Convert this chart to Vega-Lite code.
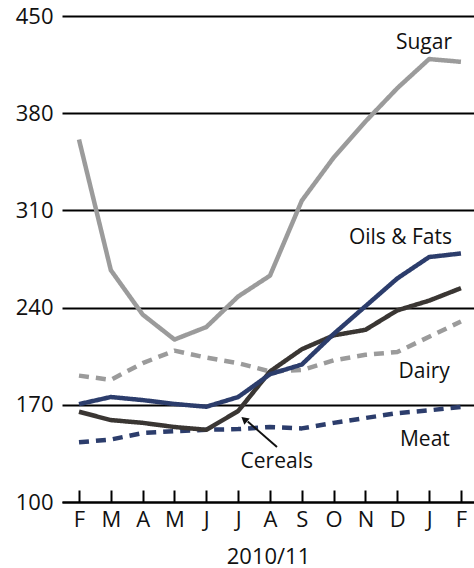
{
  "$schema": "https://vega.github.io/schema/vega-lite/v6.json",
  "width": 412,
  "height": 486,
  "autosize": {"type": "none"},
  "padding": {"left": 62, "top": 16, "right": 0, "bottom": 66},
  "background": "white",
  "config": {"view": {"stroke": null}, "font": "Open Sans"},
  "encoding": {
    "x": {
      "field": "m", "type": "quantitative",
      "scale": {"domain": [-0.534, 12.41], "nice": false, "zero": false},
      "axis": {
        "values": [0, 1, 2, 3, 4, 5, 6, 7, 8, 9, 10, 11, 12],
        "labelExpr": "['F','M','A','M','J','J','A','S','O','N','D','J','F'][datum.value]",
        "title": "2010/11", "titleFontSize": 22, "titleFontWeight": "normal", "titleColor": "#111", "titlePadding": 16,
        "labelFontSize": 22, "labelColor": "#111", "labelPadding": 19, "labelFlush": false, "labelOverlap": false,
        "domainColor": "#000", "domainWidth": 2, "tickColor": "#000", "tickWidth": 2, "tickSize": -12, "grid": false
      }
    },
    "y": {
      "field": "v", "type": "quantitative",
      "scale": {"domain": [100, 450], "nice": false, "zero": false},
      "axis": {
        "values": [100, 170, 240, 310, 380, 450], "title": null,
        "grid": true, "gridColor": "#000", "gridWidth": 2, "domain": false, "ticks": false,
        "labelFontSize": 22, "labelColor": "#111", "labelPadding": 9
      }
    }
  },
  "layer": [
    {
      "data": {"values": [
        {"s": "Sugar", "m": 0, "v": 361}, {"s": "Sugar", "m": 1, "v": 267}, {"s": "Sugar", "m": 2, "v": 235}, {"s": "Sugar", "m": 3, "v": 217}, {"s": "Sugar", "m": 4, "v": 226}, {"s": "Sugar", "m": 5, "v": 248}, {"s": "Sugar", "m": 6, "v": 263}, {"s": "Sugar", "m": 7, "v": 317}, {"s": "Sugar", "m": 8, "v": 348}, {"s": "Sugar", "m": 9, "v": 374}, {"s": "Sugar", "m": 10, "v": 398}, {"s": "Sugar", "m": 11, "v": 419}, {"s": "Sugar", "m": 12, "v": 417},
        {"s": "Dairy", "m": 0, "v": 191}, {"s": "Dairy", "m": 1, "v": 188}, {"s": "Dairy", "m": 2, "v": 200}, {"s": "Dairy", "m": 3, "v": 209}, {"s": "Dairy", "m": 4, "v": 204}, {"s": "Dairy", "m": 5, "v": 200}, {"s": "Dairy", "m": 6, "v": 194}, {"s": "Dairy", "m": 7, "v": 195}, {"s": "Dairy", "m": 8, "v": 202}, {"s": "Dairy", "m": 9, "v": 206}, {"s": "Dairy", "m": 10, "v": 208}, {"s": "Dairy", "m": 11, "v": 219}, {"s": "Dairy", "m": 12, "v": 230},
        {"s": "Meat", "m": 0, "v": 143}, {"s": "Meat", "m": 1, "v": 145}, {"s": "Meat", "m": 2, "v": 149.7}, {"s": "Meat", "m": 3, "v": 151}, {"s": "Meat", "m": 4, "v": 152}, {"s": "Meat", "m": 5, "v": 152.5}, {"s": "Meat", "m": 6, "v": 154}, {"s": "Meat", "m": 7, "v": 153}, {"s": "Meat", "m": 8, "v": 157}, {"s": "Meat", "m": 9, "v": 160.5}, {"s": "Meat", "m": 10, "v": 164}, {"s": "Meat", "m": 11, "v": 166}, {"s": "Meat", "m": 12, "v": 168.4},
        {"s": "Cereals", "m": 0, "v": 165}, {"s": "Cereals", "m": 1, "v": 159}, {"s": "Cereals", "m": 2, "v": 157}, {"s": "Cereals", "m": 3, "v": 154}, {"s": "Cereals", "m": 4, "v": 152}, {"s": "Cereals", "m": 5, "v": 165.5}, {"s": "Cereals", "m": 6, "v": 194}, {"s": "Cereals", "m": 7, "v": 210}, {"s": "Cereals", "m": 8, "v": 220}, {"s": "Cereals", "m": 9, "v": 224}, {"s": "Cereals", "m": 10, "v": 238}, {"s": "Cereals", "m": 11, "v": 245}, {"s": "Cereals", "m": 12, "v": 254},
        {"s": "Oils & Fats", "m": 0, "v": 170.5}, {"s": "Oils & Fats", "m": 1, "v": 175.6}, {"s": "Oils & Fats", "m": 2, "v": 173.4}, {"s": "Oils & Fats", "m": 3, "v": 170.6}, {"s": "Oils & Fats", "m": 4, "v": 168.6}, {"s": "Oils & Fats", "m": 5, "v": 175.6}, {"s": "Oils & Fats", "m": 6, "v": 192}, {"s": "Oils & Fats", "m": 7, "v": 199}, {"s": "Oils & Fats", "m": 8, "v": 221}, {"s": "Oils & Fats", "m": 9, "v": 241}, {"s": "Oils & Fats", "m": 10, "v": 261}, {"s": "Oils & Fats", "m": 11, "v": 276.4}, {"s": "Oils & Fats", "m": 12, "v": 279}
      ]},
      "mark": {"type": "line", "strokeWidth": 4.5, "strokeJoin": "round"},
      "encoding": {
        "color": {"field": "s", "type": "nominal", "legend": null,
          "scale": {"domain": ["Sugar", "Dairy", "Meat", "Cereals", "Oils & Fats"], "range": ["#9b9b9b", "#9b9b9b", "#2c3d6c", "#3a3633", "#2c3d6c"]}},
        "strokeDash": {"field": "s", "type": "nominal", "legend": null,
          "scale": {"domain": ["Sugar", "Dairy", "Meat", "Cereals", "Oils & Fats"], "range": [[1, 0], [10, 7], [10, 7], [1, 0], [1, 0]]}},
        "order": {"field": "m", "type": "quantitative"}
      }
    },
    {
      "data": {"values": [
        {"label": "Sugar", "m": 11.72, "v": 430.5},
        {"label": "Oils & Fats", "m": 11.72, "v": 290},
        {"label": "Dairy", "m": 11.65, "v": 193.6},
        {"label": "Meat", "m": 11.65, "v": 144.6},
        {"label": "Cereals", "m": 7.35, "v": 128.8}
      ]},
      "mark": {"type": "text", "align": "right", "baseline": "middle", "fontSize": 21, "color": "#111"},
      "encoding": {
        "text": {"field": "label"}
      }
    },
    {
      "data": {"values": [{"m": 6.22, "v": 139.6, "m2": 5.3, "v2": 158}]},
      "mark": {"type": "rule", "strokeWidth": 2, "color": "#111"},
      "encoding": {
        "x2": {"field": "m2"},
        "y2": {"field": "v2"}
      }
    },
    {
      "data": {"values": [{"m": 5.22, "v": 159}]},
      "mark": {"type": "point", "shape": "triangle", "filled": true, "size": 70, "angle": 310, "color": "#111", "opacity": 1}
    }
  ]
}
